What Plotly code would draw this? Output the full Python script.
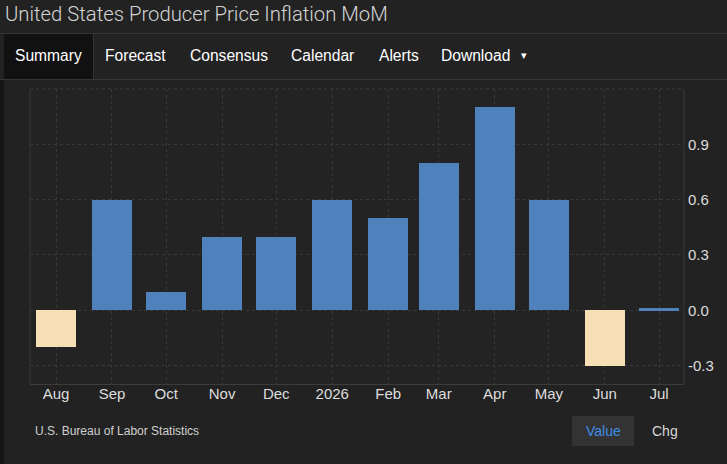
import plotly.graph_objects as go

# ---- data ----
dates = ["2025-08-01", "2025-09-01", "2025-10-01", "2025-11-01", "2025-12-01",
         "2026-01-01", "2026-02-01", "2026-03-01", "2026-04-01", "2026-05-01",
         "2026-06-01", "2026-07-01"]
tick_labels = ["Aug", "Sep", "Oct", "Nov", "Dec", "2026", "Feb", "Mar", "Apr",
               "May", "Jun", "Jul"]
values = [-0.2, 0.6, 0.1, 0.4, 0.4, 0.6, 0.5, 0.8, 1.1, 0.6, -0.3, 0.01]
y_ticks = [-0.3, 0.0, 0.3, 0.6, 0.9]
y_tick_labels = ["-0.3", "0.0", "0.3", "0.6", "0.9"]

title_text = "United States Producer Price Inflation MoM"
tabs = ["Summary", "Forecast", "Consensus", "Calendar", "Alerts", "Download"]
source_text = "U.S. Bureau of Labor Statistics"

BLUE = "#4f81bd"
BEIGE = "#f6dfb5"
W, H = 727, 464
L, R, T, B = 30, 684, 89, 384

def px(x):
    return (x - L) / (R - L)

def py(y):
    return (B - y) / (B - T)

colors = [BLUE if v >= 0 else BEIGE for v in values]

fig = go.Figure()
fig.add_trace(go.Bar(
    x=dates, y=values, marker=dict(color=colors, line=dict(width=0)),
    width=22.16 * 86400000, hoverinfo="skip",
))

FONT = "Liberation Sans, Arial, sans-serif"
shapes = []
annotations = []

# page structure
shapes.append(dict(type="line", xref="paper", yref="paper", x0=px(0), x1=px(W),
                   y0=py(33.5), y1=py(33.5), line=dict(color="#353535", width=1), layer="below"))
shapes.append(dict(type="line", xref="paper", yref="paper", x0=px(0), x1=px(W),
                   y0=py(79.5), y1=py(79.5), line=dict(color="#353535", width=1), layer="below"))
shapes.append(dict(type="rect", xref="paper", yref="paper", x0=px(4), x1=px(93),
                   y0=py(79), y1=py(34), fillcolor="#111111", line=dict(width=0), layer="below"))
shapes.append(dict(type="line", xref="paper", yref="paper", x0=px(93.5), x1=px(93.5),
                   y0=py(79), y1=py(34), line=dict(color="#333333", width=1), layer="below"))
shapes.append(dict(type="rect", xref="paper", yref="paper", x0=px(0), x1=px(4),
                   y0=py(H), y1=py(80), fillcolor="#151515", line=dict(width=0), layer="below"))
# plot frame
shapes.append(dict(type="line", xref="paper", yref="paper", x0=0, x1=1, y0=1, y1=1,
                   line=dict(color="#3c3c3c", width=1, dash="dot")))
shapes.append(dict(type="line", xref="paper", yref="paper", x0=0, x1=0, y0=0, y1=1,
                   line=dict(color="#3a3a3a", width=1)))
shapes.append(dict(type="line", xref="paper", yref="paper", x0=1, x1=1, y0=0, y1=1,
                   line=dict(color="#3a3a3a", width=1)))
# Value button
shapes.append(dict(type="rect", xref="paper", yref="paper", x0=px(572), x1=px(634),
                   y0=py(446), y1=py(416), fillcolor="#333333", line=dict(width=0), layer="below"))

annotations.append(dict(text=title_text, xref="paper", yref="paper", x=px(3), y=py(14),
                        xanchor="left", yanchor="middle", showarrow=False,
                        font=dict(family="Roboto, Liberation Sans, sans-serif", size=20.3,
                                  weight=300, color="#d4d4d4")))
tab_x = [13, 103, 188, 289, 377, 439]
for t, x in zip(tabs, tab_x):
    annotations.append(dict(text=t, xref="paper", yref="paper", x=px(x), y=py(56),
                            xanchor="left", yanchor="middle", showarrow=False,
                            font=dict(family=FONT, size=15.6, color="#ffffff")))
annotations.append(dict(text="▾", xref="paper", yref="paper", x=px(524), y=py(56),
                        xanchor="center", yanchor="middle", showarrow=False,
                        font=dict(family="DejaVu Sans", size=11, color="#ffffff")))
annotations.append(dict(text=source_text, xref="paper", yref="paper", x=px(33), y=py(431),
                        xanchor="left", yanchor="middle", showarrow=False,
                        font=dict(family=FONT, size=12, color="#d0d0d0")))
annotations.append(dict(text="Value", xref="paper", yref="paper", x=px(603), y=py(431),
                        xanchor="center", yanchor="middle", showarrow=False,
                        font=dict(family=FONT, size=14, color="#3d8fe8")))
annotations.append(dict(text="Chg", xref="paper", yref="paper", x=px(665), y=py(431),
                        xanchor="center", yanchor="middle", showarrow=False,
                        font=dict(family=FONT, size=14, color="#d8d8d8")))

fig.update_layout(
    width=W, height=H,
    margin=dict(l=L, r=W - R, t=T, b=H - B, pad=0),
    paper_bgcolor="#222222", plot_bgcolor="#232323",
    showlegend=False, bargap=0,
    shapes=shapes, annotations=annotations,
    xaxis=dict(
        type="date", range=["2025-07-17 14:00", "2026-07-14 20:00"],
        tickvals=dates, ticktext=tick_labels,
        tickfont=dict(family=FONT, size=15, color="#dddddd"),
        showgrid=True, gridcolor="#383838", griddash="dot", gridwidth=1,
        showline=True, linecolor="#3c3c3c", linewidth=1,
        ticks="", zeroline=False, fixedrange=True, ticklabelstandoff=-4,
    ),
    yaxis=dict(
        side="right", range=[-0.4, 1.2],
        tickvals=y_ticks, ticktext=y_tick_labels,
        tickfont=dict(family=FONT, size=15, color="#dddddd"),
        showgrid=True, gridcolor="#383838", griddash="dot", gridwidth=1,
        zeroline=False, showline=False, ticks="", ticklabelstandoff=3,
        fixedrange=True,
    ),
)

fig.write_html(
    "out.html",
    config={"displayModeBar": False},
    post_script="document.body.style.margin='0';document.body.style.background='#222222';",
)
